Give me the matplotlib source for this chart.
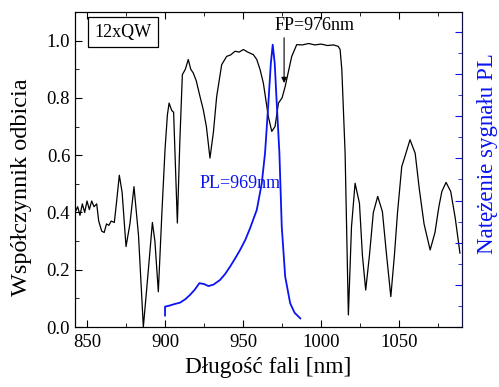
import numpy as np
import matplotlib
matplotlib.use("Agg")
import matplotlib.pyplot as plt
from matplotlib.ticker import MultipleLocator, NullFormatter

plt.rcParams['font.family'] = ['Liberation Serif', 'DejaVu Serif']

# Widmo odbicia
wl_r = [842.3, 844, 845.5, 847, 848.5, 850, 851.5, 853, 854.5, 856.2, 857.5, 859.4, 861, 862.5,
        864, 865.5, 867.5, 869, 870.7, 872.5, 875, 877.5, 880.1, 883, 886.1, 889, 891.9, 893.5,
        895.7, 898, 900, 901.5, 902.6, 904.3, 905.5, 907.9, 909.5, 911.1, 913, 914.9, 916.5,
        918.1, 920, 922.4, 924.5, 926.5, 928.8, 931, 933.1, 936.3, 939.5, 942, 944.9, 947.5,
        950.2, 953, 956.6, 958.8, 960.9, 963, 966.2, 968.4, 970.5, 972.7, 975, 977, 979,
        981.2, 984.4, 988, 992, 996, 1000, 1004, 1008, 1011, 1012.2, 1013.3, 1015.4, 1017.5,
        1019.5, 1021.8, 1024.6, 1026.5, 1028.6, 1031, 1033.5, 1036.3, 1039.3, 1042, 1044.7,
        1047, 1049, 1051.7, 1054, 1057, 1060.3, 1063, 1066, 1069.9, 1073, 1075.5, 1077.4,
        1080.1, 1083.1, 1086, 1089]
refl = [0.40, 0.42, 0.39, 0.43, 0.40, 0.44, 0.41, 0.44, 0.42, 0.43, 0.37, 0.335, 0.33, 0.36,
        0.355, 0.37, 0.365, 0.44, 0.53, 0.47, 0.281, 0.36, 0.49, 0.32, 0.0, 0.18, 0.365, 0.30,
        0.123, 0.40, 0.62, 0.74, 0.782, 0.756, 0.75, 0.363, 0.65, 0.881, 0.90, 0.934, 0.90,
        0.887, 0.86, 0.805, 0.759, 0.70, 0.59, 0.68, 0.805, 0.916, 0.945, 0.95, 0.963, 0.96,
        0.969, 0.96, 0.951, 0.934, 0.899, 0.852, 0.735, 0.683, 0.70, 0.782, 0.80, 0.84, 0.89,
        0.945, 0.986, 0.985, 0.99, 0.985, 0.988, 0.983, 0.985, 0.98, 0.969, 0.899, 0.608, 0.042,
        0.35, 0.502, 0.432, 0.25, 0.129, 0.25, 0.40, 0.456, 0.403, 0.25, 0.106,
        0.25, 0.40, 0.56, 0.60, 0.654, 0.607, 0.48, 0.36, 0.269, 0.33, 0.42, 0.473,
        0.505, 0.473, 0.38, 0.258]

# Widmo PL
wl_pl = [900, 900, 903, 906, 909.6, 913, 916, 919, 922, 925, 927.8, 931, 935.2, 938.5, 941.7,
         945, 948.1, 951.5, 954.5, 958.8, 962, 964.1, 966.2, 967.8, 969, 970.3, 971.6, 973.3,
         974.8, 977, 980.2, 983, 986.7]
pl = [0.04, 0.071, 0.075, 0.08, 0.085, 0.097, 0.112, 0.13, 0.153, 0.15, 0.143, 0.148, 0.164,
      0.185, 0.211, 0.24, 0.269, 0.305, 0.345, 0.409, 0.502, 0.608, 0.78, 0.92, 0.986, 0.92,
      0.78, 0.607, 0.351, 0.176, 0.083, 0.05, 0.03]

blue = '#0a14f0'

fig = plt.figure(figsize=(4.99, 3.87), dpi=100)
ax = fig.add_axes([75/499, 1 - 327/387, 386.5/499, 315/387])

ax.plot(wl_r, refl, color='black', lw=0.9)
ax.set_xlim(842.3, 1090)
ax.set_ylim(0, 1.1)
ax.xaxis.set_major_locator(MultipleLocator(50))
ax.xaxis.set_minor_locator(MultipleLocator(25))
ax.yaxis.set_minor_locator(MultipleLocator(0.1))
ax.set_yticks([0.0, 0.2, 0.4, 0.6, 0.8, 1.0])
ax.set_yticklabels(['0.0', '0.2', '0.4', '0.6', '0.8', '1.0'])
ax.tick_params(which='both', direction='in', top=True, labelsize=13.5)
ax.tick_params(which='major', length=5)
ax.tick_params(which='minor', length=3)
ax.tick_params(axis='x', pad=5)
ax.set_xlabel('Długość fali [nm]', fontsize=16.8, labelpad=4)
ax.set_ylabel('Współczynnik odbicia', fontsize=17.5)
ax.yaxis.set_label_coords(-0.111, 0.444)

ax2 = ax.twinx()
ax2.plot(wl_pl, pl, color=blue, lw=1.3)
ax2.set_ylim(0, 1.1)
ax2.yaxis.set_major_locator(MultipleLocator(0.1472))
ax2.yaxis.set_minor_locator(MultipleLocator(0.0736))
ax2.yaxis.set_major_formatter(NullFormatter())
ax2.tick_params(which='both', direction='in', colors=blue)
ax2.tick_params(which='major', length=5)
ax2.tick_params(which='minor', length=3)
ax2.spines['right'].set_color('#101040')
ax2.set_ylabel('Natężenie sygnału PL', fontsize=16.5, color=blue)
ax2.yaxis.set_label_coords(1.04, 0.549)

ax.text(0.05, 0.936, '12xQW', transform=ax.transAxes, fontsize=13, va='center', ha='left',
        bbox=dict(boxstyle='square,pad=0.35', fc='white', ec='black', lw=0.9))
ax.text(996, 1.053, 'FP=976nm', fontsize=13, ha='center', va='center')
ax.annotate('', xy=(976.3, 0.852), xytext=(976.3, 1.01),
            arrowprops=dict(arrowstyle='-|>', color='black', lw=0.8, mutation_scale=8,
                            shrinkA=0, shrinkB=0))
ax.text(922, 0.5, 'PL=969nm', color=blue, fontsize=13, va='center', ha='left')

fig.savefig('out.png', dpi=100)
